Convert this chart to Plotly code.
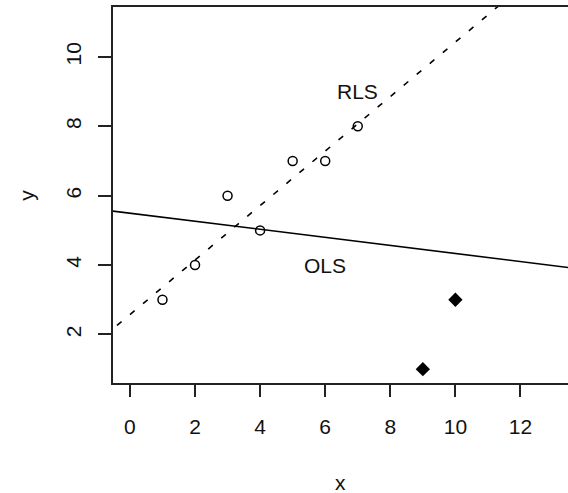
import numpy as np
import plotly.graph_objects as go

# Data
x_good = [1, 2, 3, 4, 5, 6, 7]
y_good = [3, 4, 6, 5, 7, 7, 8]
x_out = [9, 10]
y_out = [1, 3]

x_ticks = [0, 2, 4, 6, 8, 10, 12]
y_ticks = [2, 4, 6, 8, 10]

labels = ["RLS", "OLS"]
label_x = [7, 6]
label_y = [9, 4]

x_range = [-0.52, 13.46]
y_range = [0.6, 11.44]

# fits
x_all = np.array(x_good + x_out, dtype=float)
y_all = np.array(y_good + y_out, dtype=float)
ols = np.polyfit(x_all, y_all, 1)
rls = np.polyfit(np.array(x_good, float), np.array(y_good, float), 1)
line_x = np.array([-2.0, 16.0])

FONT = "Liberation Sans"

fig = go.Figure()
fig.add_trace(go.Scatter(x=line_x, y=np.polyval(ols, line_x), mode="lines",
                         line=dict(color="black", width=1.6), hoverinfo="skip"))
fig.add_trace(go.Scatter(x=line_x, y=np.polyval(rls, line_x), mode="lines",
                         line=dict(color="black", width=1.6, dash="6px,11px"), hoverinfo="skip"))
fig.add_trace(go.Scatter(x=x_good, y=y_good, mode="markers",
                         marker=dict(symbol="circle-open", size=9, color="black",
                                     line=dict(width=1.5, color="black"))))
fig.add_trace(go.Scatter(x=x_out, y=y_out, mode="markers",
                         marker=dict(symbol="diamond", size=11, color="black")))

for t, lx, ly in zip(labels, label_x, label_y):
    fig.add_annotation(x=lx, y=ly, text=t, showarrow=False,
                       font=dict(family=FONT, size=21, color="#111"),
                       xanchor="center", yanchor="middle")

fig.add_annotation(xref="paper", yref="paper", x=0.5, y=-0.262, text="x",
                   showarrow=False, font=dict(family=FONT, size=21, color="#111"),
                   xanchor="center", yanchor="middle", height=18, valign="middle")
fig.add_annotation(xref="paper", yref="paper", x=-0.192, y=0.5, text="y",
                   showarrow=False, textangle=-90,
                   font=dict(family=FONT, size=21, color="#111"),
                   xanchor="center", yanchor="middle")

fig.update_layout(
    width=568, height=493,
    margin=dict(l=113, r=0, t=7, b=110),
    paper_bgcolor="white", plot_bgcolor="white",
    showlegend=False,
    font=dict(family=FONT, size=21, color="#111"),
)
fig.update_xaxes(range=x_range, tickmode="array", tickvals=x_ticks,
                 showgrid=False, zeroline=False, showline=True, mirror=True,
                 linecolor="#222", linewidth=2, ticks="outside", ticklen=12,
                 tickwidth=2, tickcolor="#222", ticklabelstandoff=12)
fig.update_yaxes(range=y_range, tickmode="array", tickvals=y_ticks,
                 showgrid=False, zeroline=False, showline=True, mirror=False,
                 linecolor="#222", linewidth=2, ticks="outside", ticklen=13,
                 tickwidth=2, tickcolor="#222", tickangle=-90, ticklabelstandoff=9)

fig.write_html(
    "out.html",
    config={"displayModeBar": False},
    post_script=("document.documentElement.style.margin='0';"
                 "document.body.style.margin='0';"
                 "document.body.style.overflow='hidden';"
                 "document.documentElement.style.overflow='hidden';"),
)
